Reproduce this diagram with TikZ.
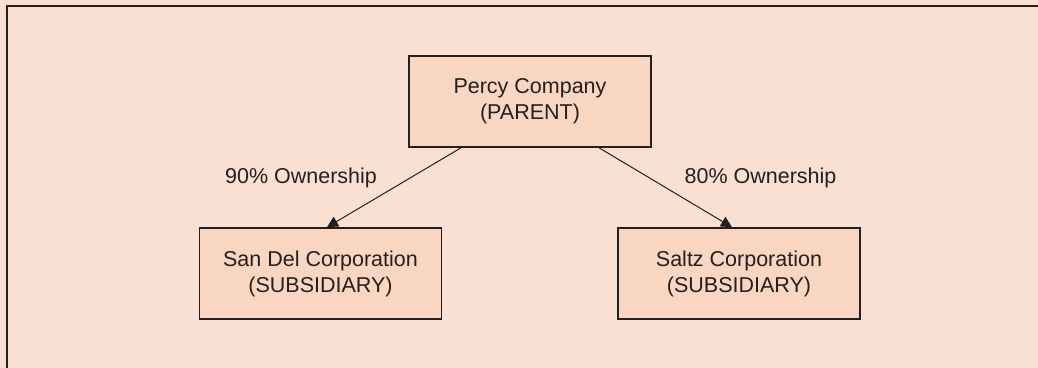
\documentclass[tikz,border=0pt]{standalone}
\usepackage{fontspec}
\setmainfont{Liberation Sans}
\usetikzlibrary{arrows.meta}

\definecolor{bgpeach}{HTML}{FAE0D3}
\definecolor{boxpeach}{HTML}{F9D6C2}
\definecolor{inkgray}{HTML}{231F20}

\begin{document}
\begin{tikzpicture}[x=0.5pt, y=-0.5pt,
    company/.style={draw=inkgray, line width=0.8pt, fill=boxpeach, text=inkgray,
        minimum width=121pt, minimum height=45.5pt, align=center,
        font=\fontsize{10.75pt}{13pt}\selectfont},
    share/.style={text=inkgray, font=\fontsize{10.75pt}{13pt}\selectfont},
    owns/.style={draw=inkgray, line width=0.5pt, -{Triangle[length=5.5pt,width=5.5pt]}}]

    \fill[bgpeach] (0,0) rectangle (1038,368);
    \useasboundingbox (0,0) rectangle (1038,368);
    \draw[inkgray, line width=1pt] (6.5,368) -- (6.5,6.5) -- (1038,6.5);

    \node[company] (percy) at (530,101.5) {Percy Company\\(PARENT)};
    \node[company] (sandel) at (320.5,273.5) {San Del Corporation\\(SUBSIDIARY)};
    \node[company] (saltz) at (739,273.5) {Saltz Corporation\\(SUBSIDIARY)};

    \draw[owns] ([xshift=-34.5pt]percy.south) -- ([xshift=3.25pt]sandel.north);
    \draw[owns] ([xshift=34.5pt]percy.south) -- ([xshift=-3.5pt]saltz.north);

    \node[share] (ninety) at (301,178) {90\% Ownership};
    \node[share] (eighty) at (760.5,178) {80\% Ownership};
\end{tikzpicture}
\end{document}
